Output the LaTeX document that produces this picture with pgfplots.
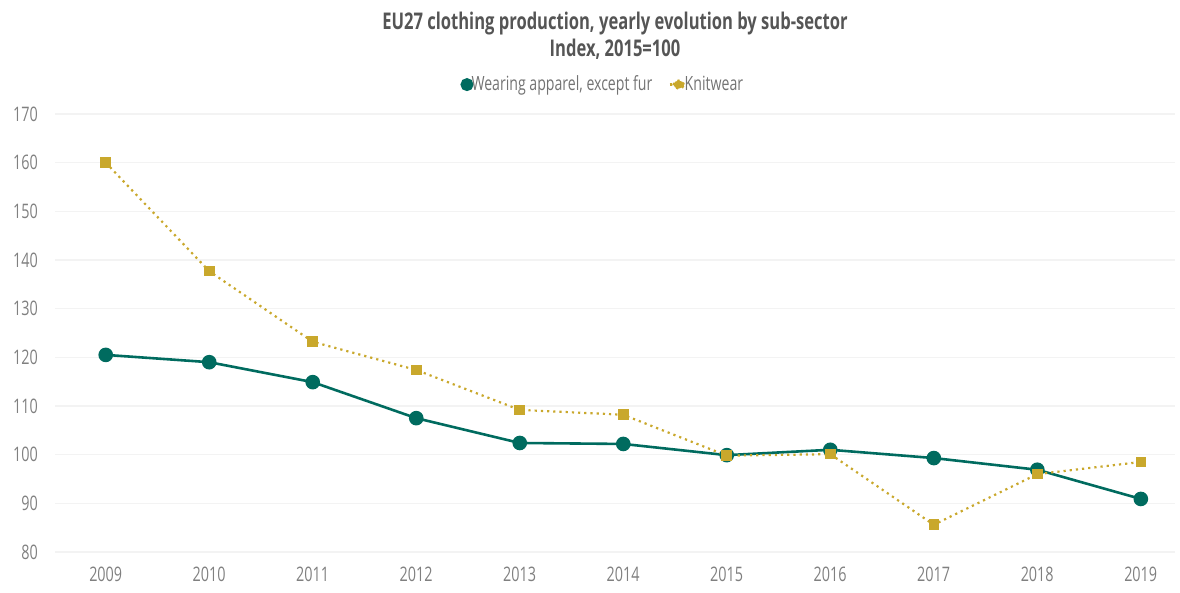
\documentclass[border=0pt]{standalone}
\usepackage{fontspec}
\setmainfont{Open Sans}[FakeStretch=0.72]
\usepackage{pgfplots}
\pgfplotsset{compat=1.18}
\definecolor{teal}{HTML}{006B5F}
\definecolor{gold}{HTML}{C9A82C}
\definecolor{gridc}{HTML}{F3F3F3}
\definecolor{tickc}{HTML}{808080}
\definecolor{titlec}{HTML}{555555}
\begin{document}
\begin{tikzpicture}
\path[use as bounding box] (-27.5pt,-20.5pt) rectangle (562.5pt,276pt);
\begin{axis}[
  scale only axis,
  width=560pt, height=219pt,
  xmin=2008.51, xmax=2019.33,
  ymin=80, ymax=170,
  xtick={2009,...,2019},
  ytick={80,90,...,170},
  xticklabel style={/pgf/number format/1000 sep={}},
  /pgf/number format/assume math mode=true,
  axis line style={draw=none},
  major tick length=0pt,
  ymajorgrids,
  grid style={gridc, line width=0.6pt},
  ticklabel style={font=\fontsize{10}{12}\selectfont, text=tickc},
  yticklabel style={xshift=-5pt},
  xticklabel style={yshift=-4pt},
  legend style={at={(0.49,1)}, anchor=south, yshift=6pt, draw=none, fill=none,
    legend columns=2, font=\fontsize{9.8}{11}\selectfont, text=tickc!90!black,
    /tikz/every even column/.append style={column sep=6pt},
    /tikz/every odd column/.append style={column sep=-3pt}},
  legend cell align=left,
  clip=false,
]
\addplot[teal, line width=1.3pt, mark=*, mark size=3pt, mark options={solid, fill=teal, draw=teal},
  legend image code/.code={\draw[fill=teal, draw=teal] (0.3cm,0cm) circle (2.6pt);}]
  coordinates {(2009,120.5) (2010,119.0) (2011,114.9) (2012,107.5) (2013,102.4) (2014,102.2)
   (2015,99.9) (2016,101.0) (2017,99.3) (2018,96.9) (2019,90.9)};
\addlegendentry{Wearing apparel, except fur}
\addplot[gold, line width=1.1pt, dotted, mark=square*, mark size=2.1pt, mark options={solid, fill=gold, draw=gold},
  legend image code/.code={\draw[gold, line width=1.2pt] (0.14cm,0cm) -- (0.42cm,0cm); \draw[fill=gold, draw=gold] (0.3cm,0cm) ellipse (2.6pt and 2pt);}]
  coordinates {(2009,160.0) (2010,137.7) (2011,123.2) (2012,117.4) (2013,109.2) (2014,108.2)
   (2015,99.8) (2016,100.1) (2017,85.6) (2018,96.0) (2019,98.5)};
\addlegendentry{Knitwear}
\node[font=\bfseries\fontsize{11.5}{13.5}\selectfont, text=titlec, align=center, anchor=south]
  at ([yshift=23.5pt]rel axis cs:0.5,1) {EU27 clothing production, yearly evolution by sub-sector\\Index, 2015=100};
\end{axis}
\end{tikzpicture}
\end{document}
